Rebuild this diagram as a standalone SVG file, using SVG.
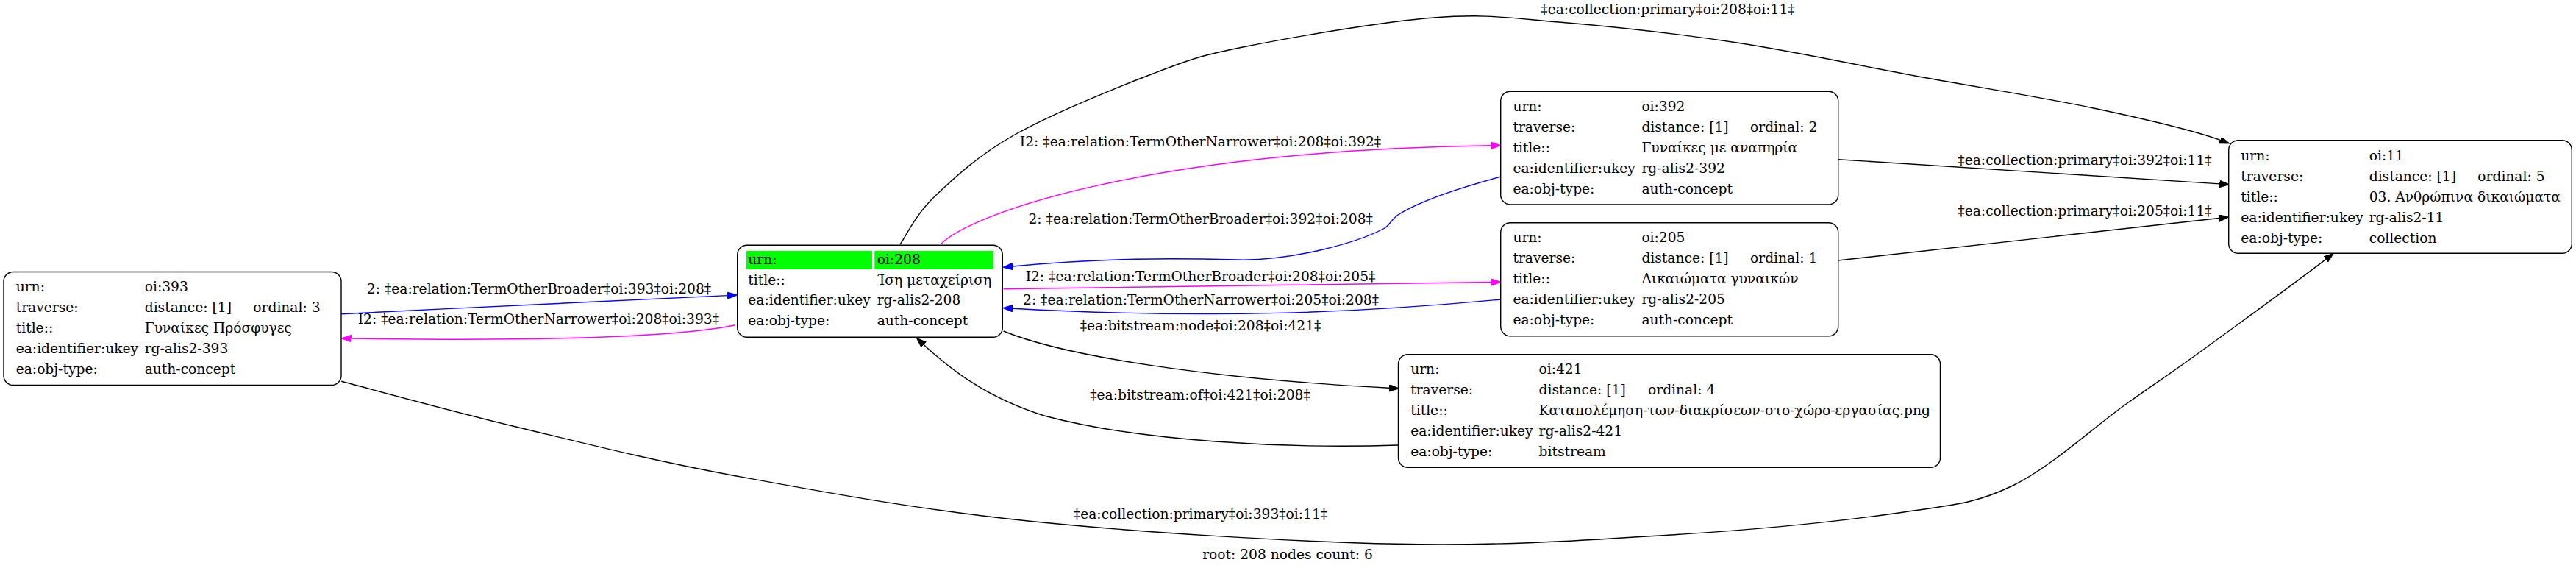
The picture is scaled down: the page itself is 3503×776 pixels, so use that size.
<svg xmlns="http://www.w3.org/2000/svg" width="3503" height="776" viewBox="0 0 3503 776">
<style>
text{font-family:"DejaVu Serif","Liberation Serif",serif;font-size:18.67px;fill:#000}
.lbl{text-anchor:middle}
.box{fill:#fff;stroke:#000;stroke-width:1.4}
.e{fill:none;stroke-width:1.4}
.k{stroke:#000}
.b{stroke:#0000ff}
.m{stroke:#ff00ff}
.hl{fill:#00ff00}
</style>
<defs>
<marker id="ak" markerUnits="userSpaceOnUse" markerWidth="14" markerHeight="10" refX="0" refY="4.7" orient="auto"><path d="M0,0 L13.3,4.7 L0,9.4 z" fill="#000" stroke="#000" stroke-width="1"/></marker>
<marker id="ab" markerUnits="userSpaceOnUse" markerWidth="14" markerHeight="10" refX="0" refY="4.7" orient="auto"><path d="M0,0 L13.3,4.7 L0,9.4 z" fill="#0000ff" stroke="#0000ff" stroke-width="1"/></marker>
<marker id="am" markerUnits="userSpaceOnUse" markerWidth="14" markerHeight="10" refX="0" refY="4.7" orient="auto"><path d="M0,0 L13.3,4.7 L0,9.4 z" fill="#ff00ff" stroke="#ff00ff" stroke-width="1"/></marker>
</defs>
<rect width="3503" height="776" fill="#fff"/>

<g id="connectors">
<path class="e b" marker-end="url(#ab)" d="M464.2,426.7 C640,418 820,409 989.3,401.6"/>
<path class="e m" marker-end="url(#am)" d="M1000,441.7 C920,458 740,464 477.5,460"/>
<path class="e k" marker-end="url(#ak)" d="M1224,332 C1231.8,321.2 1245,291.8 1271,267 C1297,242.2 1330.5,210.8 1380,183 C1429.5,155.2 1515.5,120 1568,100 C1620.5,80 1631.3,75.7 1695,63 C1758.7,50.3 1879.2,29.5 1950,24 C2020.8,18.5 2051.3,24.3 2120,30 C2188.7,35.7 2281.3,45.8 2362,58 C2442.7,70.2 2523.2,88.2 2604,103 C2684.8,117.8 2777.8,132.4 2847,147 C2916.2,161.6 2981.5,176.6 3019.2,190.4"/>
<path class="e m" marker-end="url(#am)" d="M1279,332 C1320,290 1560,205 2027.7,197.8"/>
<path class="e b" marker-end="url(#ab)" d="M2041,240 C1960,262 1920,280 1901,292 C1890,300 1890,306 1883,310 C1850,328 1760,355 1682,353 C1600,351 1500,350 1377.1,362"/>
<path class="e m" marker-end="url(#am)" d="M1364.6,392.7 C1600,389.5 1800,386.7 2027.7,383.5"/>
<path class="e b" marker-end="url(#ab)" d="M2041,407 C1850,425 1650,434 1377,419.2"/>
<path class="e k" marker-end="url(#ak)" d="M1364.6,450 C1450,485 1650,515 1889.3,527.3"/>
<path class="e k" marker-end="url(#ak)" d="M1901,605 C1750,610 1550,600 1420,565 C1340,540 1290,500 1256.1,468.4"/>
<path class="e k" marker-end="url(#ak)" d="M2499.6,216.7 C2680,228.5 2850,239.5 3018.4,249.9"/>
<path class="e k" marker-end="url(#ak)" d="M2499.6,354 C2680,334 2850,315 3017.5,296.5"/>
<path class="e k" marker-end="url(#ak)" d="M464.3,518.3 C503.8,528.6 612.2,558.6 701.5,580 C790.8,601.4 883.6,625.3 1000,646.7 C1116.4,668.1 1250,692.9 1400,708.3 C1550,723.7 1753.7,736.2 1900,739.3 C2046.3,742.4 2163.7,733.8 2277.6,726.7 C2391.6,719.6 2507.1,707.8 2583.7,696.7 C2660.3,685.6 2685.95,684.45 2737,660 C2788,635.5 2847.9,580 2890,550 C2932.1,520 2944,513 2989.5,480 C3035,447 3139,370.7 3162.8,352.4"/>
<g id="edge-labels">
<text class="lbl" x="733" y="399.3">2: ‡ea:relation:TermOtherBroader‡oi:393‡oi:208‡</text>
<text class="lbl" x="732.4" y="440">I2: ‡ea:relation:TermOtherNarrower‡oi:208‡oi:393‡</text>
<text class="lbl" x="2268" y="19">‡ea:collection:primary‡oi:208‡oi:11‡</text>
<text class="lbl" x="1632.5" y="199">I2: ‡ea:relation:TermOtherNarrower‡oi:208‡oi:392‡</text>
<text class="lbl" x="1632.7" y="304">2: ‡ea:relation:TermOtherBroader‡oi:392‡oi:208‡</text>
<text class="lbl" x="1632.5" y="381.7">I2: ‡ea:relation:TermOtherBroader‡oi:208‡oi:205‡</text>
<text class="lbl" x="1633" y="414">2: ‡ea:relation:TermOtherNarrower‡oi:205‡oi:208‡</text>
<text class="lbl" x="1632.5" y="449">‡ea:bitstream:node‡oi:208‡oi:421‡</text>
<text class="lbl" x="1632" y="543">‡ea:bitstream:of‡oi:421‡oi:208‡</text>
<text class="lbl" x="2835" y="224">‡ea:collection:primary‡oi:392‡oi:11‡</text>
<text class="lbl" x="2835" y="293.3">‡ea:collection:primary‡oi:205‡oi:11‡</text>
<text class="lbl" x="1632.5" y="705">‡ea:collection:primary‡oi:393‡oi:11‡</text>
</g>
</g>

<g id="node-oi393">
<rect class="box" x="5" y="369.5" width="459" height="154" rx="13"/>
<text x="21.7" y="396">urn:</text><text x="196.7" y="396">oi:393</text>
<text x="21.7" y="424">traverse:</text><text x="196.7" y="424">distance: [1]</text><text x="344.3" y="424">ordinal: 3</text>
<text x="21.7" y="452">title::</text><text x="196.7" y="452">Γυναίκες Πρόσφυγες</text>
<text x="21.7" y="480">ea:identifier:ukey</text><text x="196.7" y="480">rg-alis2-393</text>
<text x="21.7" y="508">ea:obj-type:</text><text x="196.7" y="508">auth-concept</text>
</g>

<g id="node-oi208">
<rect class="box" x="1002.7" y="333.3" width="360.6" height="125" rx="13"/>
<rect class="hl" x="1015" y="341" width="171" height="25"/>
<rect class="hl" x="1189.3" y="341" width="161.4" height="25"/>
<text x="1017.3" y="358.7">urn:</text><text x="1192.7" y="358.7">oi:208</text>
<text x="1017.3" y="386.7">title::</text><text x="1192.7" y="386.7">Ίση μεταχείριση</text>
<text x="1017.3" y="414.3">ea:identifier:ukey</text><text x="1192.7" y="414.3">rg-alis2-208</text>
<text x="1017.3" y="442.3">ea:obj-type:</text><text x="1192.7" y="442.3">auth-concept</text>
</g>

<g id="node-oi392">
<rect class="box" x="2040.7" y="124.3" width="459" height="153.6" rx="13"/>
<text x="2057.4" y="151">urn:</text><text x="2232.4" y="151">oi:392</text>
<text x="2057.4" y="179">traverse:</text><text x="2232.4" y="179">distance: [1]</text><text x="2380" y="179">ordinal: 2</text>
<text x="2057.4" y="207">title::</text><text x="2232.4" y="207">Γυναίκες με αναπηρία</text>
<text x="2057.4" y="235">ea:identifier:ukey</text><text x="2232.4" y="235">rg-alis2-392</text>
<text x="2057.4" y="263">ea:obj-type:</text><text x="2232.4" y="263">auth-concept</text>
</g>

<g id="node-oi205">
<rect class="box" x="2040.7" y="302.7" width="459" height="154" rx="13"/>
<text x="2057.4" y="329.4">urn:</text><text x="2232.4" y="329.4">oi:205</text>
<text x="2057.4" y="357.4">traverse:</text><text x="2232.4" y="357.4">distance: [1]</text><text x="2380" y="357.4">ordinal: 1</text>
<text x="2057.4" y="385.4">title::</text><text x="2232.4" y="385.4">Δικαιώματα γυναικών</text>
<text x="2057.4" y="413.4">ea:identifier:ukey</text><text x="2232.4" y="413.4">rg-alis2-205</text>
<text x="2057.4" y="441.4">ea:obj-type:</text><text x="2232.4" y="441.4">auth-concept</text>
</g>

<g id="node-oi421">
<rect class="box" x="1901.5" y="481.7" width="737" height="153.6" rx="13"/>
<text x="1918.2" y="508.4">urn:</text><text x="2092.5" y="508.4">oi:421</text>
<text x="1918.2" y="536.4">traverse:</text><text x="2092.5" y="536.4">distance: [1]</text><text x="2241" y="536.4">ordinal: 4</text>
<text x="1918.2" y="564.4">title::</text><text x="2092.5" y="564.4">Καταπολέμηση-των-διακρίσεων-στο-χώρο-εργασίας.png</text>
<text x="1918.2" y="592.4">ea:identifier:ukey</text><text x="2092.5" y="592.4">rg-alis2-421</text>
<text x="1918.2" y="620.4">ea:obj-type:</text><text x="2092.5" y="620.4">bitstream</text>
</g>

<g id="node-oi11">
<rect class="box" x="3030.7" y="190.7" width="466.6" height="153.6" rx="13"/>
<text x="3047.3" y="217.7">urn:</text><text x="3221.7" y="217.7">oi:11</text>
<text x="3047.3" y="245.7">traverse:</text><text x="3221.7" y="245.7">distance: [1]</text><text x="3369.3" y="245.7">ordinal: 5</text>
<text x="3047.3" y="273.7">title::</text><text x="3221.7" y="273.7">03. Ανθρώπινα δικαιώματα</text>
<text x="3047.3" y="301.7">ea:identifier:ukey</text><text x="3221.7" y="301.7">rg-alis2-11</text>
<text x="3047.3" y="329.7">ea:obj-type:</text><text x="3221.7" y="329.7">collection</text>
</g>

<text class="lbl" x="1751" y="760">root: 208 nodes count: 6</text>
</svg>
